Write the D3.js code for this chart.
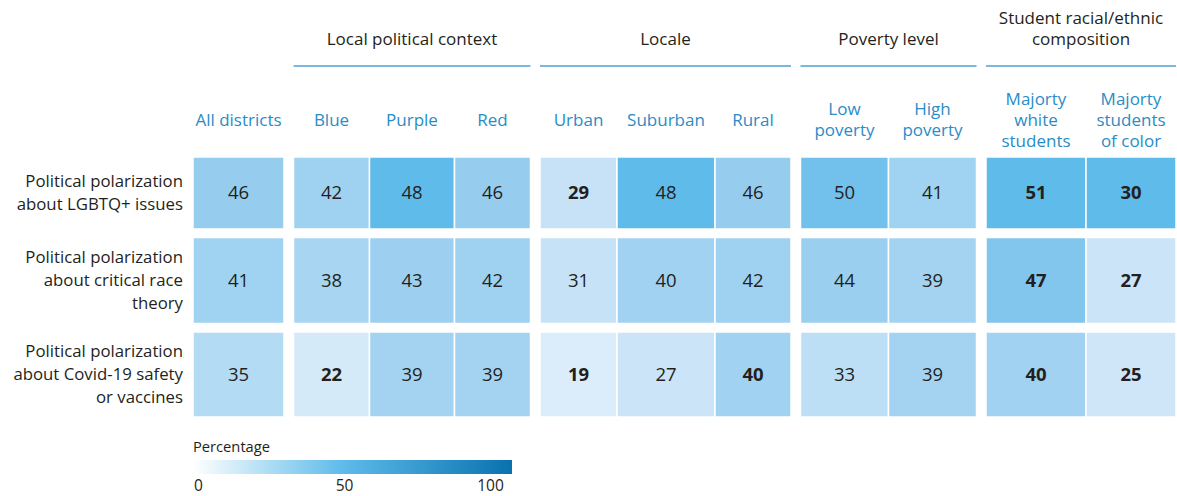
<!DOCTYPE html>
<html>
<head>
<meta charset="utf-8">
<script src="https://cdn.jsdelivr.net/npm/d3@7"></script>
<style>
  body { margin: 0; background: #fff; }
  svg { display: block; font-family: "Open Sans", Lato, sans-serif; }
</style>
</head>
<body>
<svg id="chart" width="1177" height="496"></svg>
<script>
// data
var groupNames = ["", "Local political context", "Locale", "Poverty level", "Student racial/ethnic\ncomposition"];
var groupSizes = [1, 3, 3, 2, 2];
var columns = ["All districts", "Blue", "Purple", "Red", "Urban", "Suburban", "Rural",
  "Low\npoverty", "High\npoverty", "Majorty\nwhite\nstudents", "Majorty\nstudents\nof color"];
var rowLabels = ["Political polarization\nabout LGBTQ+ issues",
  "Political polarization\nabout critical race\ntheory",
  "Political polarization\nabout Covid-19 safety\nor vaccines"];

var lgbtq = [46, 42, 48, 46, 29, 48, 46, 50, 41, 51, 30];
var crt   = [41, 38, 43, 42, 31, 40, 42, 44, 39, 47, 27];
var covid = [35, 22, 39, 39, 19, 27, 40, 33, 39, 40, 25];

// bold = highlighted in the source
var lgbtqBold = [0, 0, 0, 0, 1, 0, 0, 0, 0, 1, 1];
var crtBold   = [0, 0, 0, 0, 0, 0, 0, 0, 0, 1, 1];
var covidBold = [0, 1, 0, 0, 1, 0, 1, 0, 0, 1, 1];

// shade the source used for each cell (same as value except where the picture differs)
var lgbtqShade = [46, 42, 48, 46, 29, 48, 46, 47.5, 41, 48, 48];
var crtShade   = crt.slice();
var covidShade = covid.slice();

var legendTicks = [0, 50, 100];

// layout
var colW = [91, 76, 85, 76, 77, 98, 76, 88, 88, 100, 90],
rowH = [72, 86, 85],
x0 = 193, y0 = 157, groupGap = 9.5, rowGap = 8.5,
dark = "#231f20", blue = "#2a8cc6";

var svg = d3.select("#chart");

// column positions
var colX = [], gi = 0, inGroup = 0, cx = x0;
columns.forEach(function (c, i) {
  colX.push(cx);
  cx += colW[i];
  inGroup++;
  if (inGroup === groupSizes[gi]) { gi++; inGroup = 0; cx += groupGap; }
});
var rowY = [], cy = y0;
rowH.forEach(function (h) { rowY.push(cy); cy += h + rowGap; });

var color = d3.scaleLinear()
.domain([0, 19, 29, 31, 35, 39, 43, 46, 47, 48, 100])
.range(["#f5faff", "#dbedfa", "#c7e2f6", "#c6e2f6", "#b3dbf3", "#a3d3f1", "#9dd0f0", "#96cdef", "#82c6ed", "#5fbbea", "#0872af"]);

var rows = [
  {label: rowLabels[0], values: lgbtq, bold: lgbtqBold, shade: lgbtqShade},
  {label: rowLabels[1], values: crt, bold: crtBold, shade: crtShade},
  {label: rowLabels[2], values: covid, bold: covidBold, shade: covidShade}
];

function multiline(sel, text, x, cyMid, lh) {
  var lines = text.split("\n");
  lines.forEach(function (l, i) {
    sel.append("tspan")
    .attr("x", x)
    .attr("y", cyMid + (i - (lines.length - 1) / 2) * lh)
    .attr("dy", "0.35em")
    .text(l);
  });
}

// group headers
var start = 0;
groupNames.forEach(function (g, i) {
  var first = start, last = start + groupSizes[i] - 1;
  start += groupSizes[i];
  if (!g) return;
  var gx0 = colX[first], gx1 = colX[last] + colW[last];
  svg.append("line")
  .attr("x1", gx0).attr("x2", gx1)
  .attr("y1", 66).attr("y2", 66)
  .attr("stroke", "#4fa0d2")
  .attr("stroke-width", 1.5);
  var t = svg.append("text")
  .attr("text-anchor", "middle")
  .attr("font-size", "17px")
  .attr("fill", dark);
  var nLines = g.split("\n").length;
  multiline(t, g, (gx0 + gx1) / 2, nLines > 1 ? 29 : 39.5, 21);
});

// column headers
columns.forEach(function (c, i) {
  var t = svg.append("text")
  .attr("text-anchor", "middle")
  .attr("font-size", "17px")
  .attr("fill", blue);
  multiline(t, c, colX[i] + colW[i] / 2, 120, 21);
});

// row labels + cells
rows.forEach(function (r, ri) {
  var t = svg.append("text")
  .attr("text-anchor", "end")
  .attr("font-size", "16.8px")
  .attr("fill", dark);
  multiline(t, r.label, 183, rowY[ri] + rowH[ri] / 2, 23);

  var g = svg.append("g");
  g.selectAll("rect")
  .data(r.values)
  .enter().append("rect")
  .attr("x", function (d, i) { return colX[i]; })
  .attr("y", rowY[ri])
  .attr("width", function (d, i) { return colW[i]; })
  .attr("height", rowH[ri])
  .attr("fill", function (d, i) { return color(r.shade[i]); })
  .attr("stroke", "#fff")
  .attr("stroke-width", 1.5);

  g.selectAll("text")
  .data(r.values)
  .enter().append("text")
  .attr("x", function (d, i) { return colX[i] + colW[i] / 2; })
  .attr("y", rowY[ri] + rowH[ri] / 2)
  .attr("dy", "0.35em")
  .attr("text-anchor", "middle")
  .attr("font-size", "18.5px")
  .attr("font-weight", function (d, i) { return r.bold[i] ? 700 : 400; })
  .attr("fill", dark)
  .text(function (d) { return d; });
});

// legend
var lx = d3.scaleLinear().domain([0, 100]).range([198, 490]);
var defs = svg.append("defs");
var grad = defs.append("linearGradient").attr("id", "lg");
grad.append("stop").attr("offset", "0%").attr("stop-color", "#ffffff");
grad.append("stop").attr("offset", "47%").attr("stop-color", "#5ebbea");
grad.append("stop").attr("offset", "100%").attr("stop-color", "#0872af");

svg.append("text")
.attr("x", 193).attr("y", 452)
.attr("font-size", "14.7px")
.attr("fill", dark)
.text("Percentage");

svg.append("rect")
.attr("x", 193).attr("y", 460)
.attr("width", 319).attr("height", 14)
.attr("fill", "url(#lg)");

var axis = svg.append("g")
.attr("transform", "translate(0,476)")
.call(d3.axisBottom(lx).tickValues(legendTicks).tickSize(0).tickPadding(4));
axis.select(".domain").remove();
axis.selectAll("text")
.attr("font-size", "15.5px")
.attr("font-family", "'Open Sans', Lato, sans-serif")
.attr("fill", dark);
</script>
</body>
</html>
